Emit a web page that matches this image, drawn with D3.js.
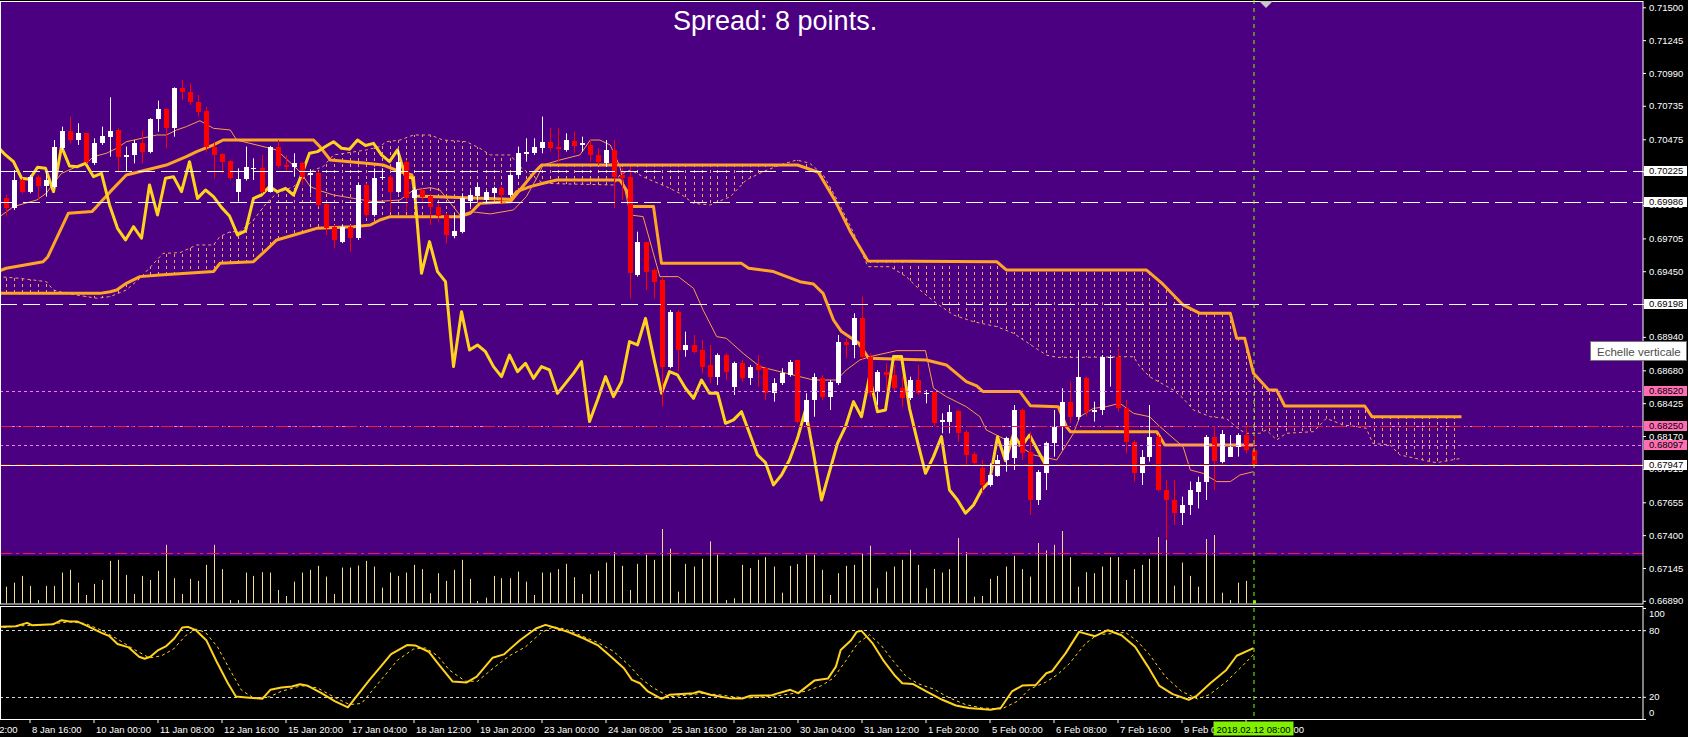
<!DOCTYPE html>
<html>
<head>
<meta charset="utf-8">
<script src="https://cdnjs.cloudflare.com/ajax/libs/d3/7.8.5/d3.min.js"></script>
<style>
  html, body { margin: 0; padding: 0; background: #000; overflow: hidden; }
  svg { display: block; }
  text { font-family: "Liberation Sans", Arial, sans-serif; }
</style>
</head>
<body>
<script>
// H4 candles, bar 0 .. bar 156 (last bar = 2018.02.12 08:00)
var opens = [.70016,.69939,.70159,.70068,.70184,.70112,.70107,.70405,.70539,.70469,
.70521,.70288,.70443,.70495,.70547,.70340,.70353,.70443,.70379,.70630,
.70708,.70560,.70871,.70840,.70767,.70697,.70418,.70358,.70306,.70068,
.70164,.70242,.70249,.70068,.70412,.70275,.70262,.70288,.70197,.70210,
.69972,.69796,.69680,.69796,.69706,.70120,.69887,.70172,.70179,.70068,
.70301,.70016,.70081,.70034,.69952,.69887,.69727,.69757,.69998,.70034,
.70003,.70055,.70094,.70042,.70197,.70359,.70366,.70405,.70456,.70418,
.70392,.70464,.70430,.70430,.70353,.70288,.70392,.70197,.70185,.69421,
.69680,.69460,.69382,.68709,.69136,.68838,.68877,.68838,.68722,.68631,
.68799,.68553,.68735,.68618,.68722,.68696,.68501,.68579,.68644,.68761,
.68282,.68450,.68618,.68476,.68579,.68903,.68877,.69084,.68787,.68515,
.68670,.68644,.68541,.68463,.68605,.68502,.68515,.68282,.68282,.68366,
.68204,.68028,.67919,.67790,.67862,.67984,.67997,.68372,.68049,.67673,
.67880,.68113,.68243,.68437,.68320,.68618,.68359,.68372,.68774,.68787,
.68385,.68126,.67880,.68010,.68165,.67751,.67673,.67570,.67634,.67738,
.67810,.68165,.67971,.68010,.68087,.68178,.68061];

var highs = [.70042,.70236,.70172,.70197,.70197,.70223,.70469,.70573,.70651,.70599,
.70521,.70482,.70573,.70801,.70560,.70418,.70469,.70542,.70638,.70775,
.70715,.70878,.70935,.70910,.70819,.70728,.70456,.70366,.70314,.70249,
.70418,.70327,.70353,.70423,.70469,.70353,.70366,.70301,.70242,.70223,
.69978,.69809,.69809,.69809,.70133,.70133,.70249,.70249,.70197,.70392,
.70314,.70107,.70094,.70055,.69977,.69900,.69900,.70055,.70081,.70133,
.70081,.70107,.70107,.70210,.70418,.70482,.70482,.70651,.70560,.70560,
.70521,.70534,.70495,.70469,.70405,.70469,.70469,.70249,.70262,.69757,
.69680,.69473,.69408,.69149,.69149,.68981,.68955,.68916,.68877,.68812,
.68812,.68748,.68761,.68722,.68799,.68709,.68618,.68696,.68761,.68761,
.68502,.68657,.68644,.68605,.68955,.68929,.69123,.69253,.68812,.68683,
.68735,.68722,.68631,.68631,.68722,.68528,.68515,.68346,.68411,.68372,
.68217,.68049,.67984,.67958,.68023,.68165,.68411,.68385,.68204,.67906,
.68126,.68372,.68541,.68592,.68838,.68631,.68437,.68799,.68799,.68851,
.68450,.68139,.68061,.68411,.68178,.67829,.67829,.67699,.67816,.67854,
.68178,.68243,.68217,.68178,.68191,.68243,.68178];

var lows = [.69874,.69926,.70055,.70055,.70003,.70029,.70094,.70392,.70443,.70431,
.70288,.70275,.70431,.70340,.70223,.70223,.70288,.70288,.70366,.70534,
.70405,.70495,.70780,.70741,.70651,.70379,.70172,.70210,.70159,.69990,
.70154,.70159,.70055,.70061,.70249,.70223,.70184,.70120,.70055,.69952,
.69731,.69628,.69667,.69602,.69693,.69874,.69874,.70159,.69913,.70055,
.69913,.70003,.69977,.69809,.69835,.69667,.69706,.69744,.69952,.70003,
.69977,.70016,.69977,.70029,.70172,.70301,.70353,.70366,.70379,.70301,
.70379,.70366,.70379,.70301,.70275,.70262,.69939,.70003,.69240,.69408,
.69304,.69240,.68400,.68696,.68670,.68786,.68812,.68657,.68579,.68566,
.68605,.68489,.68592,.68566,.68553,.68450,.68437,.68566,.68631,.68269,
.68256,.68320,.68450,.68372,.68566,.68774,.68774,.68761,.68476,.68411,
.68528,.68515,.68398,.68450,.68489,.68424,.68243,.68191,.68191,.68126,
.67932,.67945,.67725,.67777,.67854,.67893,.67906,.67984,.67557,.67634,
.67751,.68010,.68062,.68269,.68295,.68320,.68282,.68333,.68554,.68359,
.68036,.67816,.67790,.67971,.67738,.67362,.67479,.67479,.67557,.67608,
.67673,.67751,.67958,.68010,.68010,.68036,.67932];

var closes = [.69939,.70159,.70068,.70184,.70112,.70159,.70412,.70539,.70469,.70521,
.70301,.70443,.70500,.70539,.70340,.70353,.70443,.70379,.70630,.70708,
.70560,.70871,.70845,.70767,.70689,.70418,.70353,.70301,.70172,.70164,
.70257,.70249,.70068,.70418,.70267,.70262,.70288,.70184,.70210,.69965,
.69783,.69693,.69796,.69706,.70120,.69887,.70172,.70184,.70068,.70301,
.70016,.70081,.70029,.69946,.69879,.69732,.69763,.70016,.70042,.70107,
.70068,.70094,.70042,.70197,.70366,.70379,.70418,.70456,.70405,.70397,
.70469,.70426,.70443,.70353,.70301,.70392,.70185,.70172,.69434,.69680,
.69447,.69369,.68709,.69136,.68838,.68877,.68825,.68709,.68631,.68799,
.68670,.68735,.68618,.68709,.68683,.68501,.68579,.68657,.68748,.68282,
.68450,.68631,.68476,.68592,.68903,.68877,.69084,.68787,.68502,.68670,
.68644,.68541,.68463,.68605,.68502,.68505,.68269,.68295,.68359,.68191,
.68023,.67963,.67790,.67867,.67984,.68152,.68372,.68036,.67673,.67893,
.68113,.68243,.68437,.68320,.68631,.68359,.68372,.68787,.68787,.68385,
.68126,.67880,.68010,.68165,.67751,.67673,.67570,.67634,.67751,.67816,
.68165,.67978,.68185,.68087,.68178,.68061,.67947];

// tick volume per bar
var volumes = [166,206,273,173,33,173,173,306,333,206,
83,193,233,423,433,283,93,273,233,323,
583,250,93,243,223,383,583,340,33,33,
306,273,310,306,133,73,216,306,333,373,
266,93,356,356,376,423,366,156,306,273,
306,383,340,100,300,223,333,433,243,23,
56,273,250,250,316,216,83,306,306,340,
393,260,93,290,323,406,510,373,133,393,
483,433,740,543,116,393,366,443,617,483,
33,50,383,350,433,460,366,106,373,390,
483,483,333,83,300,373,383,500,573,150,
316,366,433,533,383,150,343,306,340,650,
510,66,73,243,273,366,473,340,266,600,
526,583,720,460,166,310,300,366,460,460,
233,340,383,443,660,700,176,406,273,166,
640,680,106,33,206,223,30];

// Ichimoku lines, read as [bar, price] vertices
var tenkan = [[-1,.69861],[1,.69952],[3.9,.70003],[5.1,.70055],[6,.70133],[7,.70210],[8.9,.70262],[10.1,.70288],[11,.70340],[12.6,.70366],[13.9,.70405],[15.1,.70456],[18.9,.70508],[20.1,.70508],[21.4,.70547],[22.6,.70573],[24.3,.70619],[26,.70560],[28.1,.70547],[28.9,.70469],[32.6,.70412],[33.9,.70392],[36.8,.70223],[38.1,.70107],[39.3,.70076],[41,.70042],[43.5,.70016],[46,.69990],[49.3,.70003],[51,.70081],[53.1,.70099],[54.3,.70081],[56.8,.69887],[58.1,.69913],[60.6,.69895],[63.5,.69926],[65.1,.70029],[66.4,.70172],[67.2,.70275],[69.3,.70314],[71.8,.70353],[73.1,.70469],[74.3,.70469],[75.6,.70430],[76.8,.70262],[78.1,.69887],[79.7,.69874],[81.8,.69408],[84.1,.69408],[86,.69317],[87.2,.69149],[88.9,.68942],[90.1,.68929],[92.2,.68812],[94.3,.68709],[99.3,.68631],[101,.68605],[103.9,.68605],[105.1,.68683],[106.8,.68761],[108.1,.68787],[111.4,.68833],[115,.68833],[115.6,.68657],[116,.68541],[117.6,.68476],[120.1,.68398],[121.8,.68320],[122.6,.68217],[125.1,.68139],[126.8,.68088],[128.5,.68023],[131.4,.67984],[132.2,.68062],[133.5,.68191],[134.3,.68320],[136,.68385],[137.6,.68398],[139.3,.68424],[141,.68346],[143,.68320],[144.3,.68243],[147.2,.68087],[148.1,.67906],[149.7,.67880],[151.4,.67816],[153.1,.67816],[154.3,.67867],[156,.67893]];

var kijun = [[-1,.69447],[0.1,.69473],[4.7,.69524],[5.3,.69563],[7.85,.69900],[10.8,.69913],[11.4,.69952],[13.1,.70068],[15.1,.70197],[17.6,.70236],[20.1,.70275],[22.6,.70340],[23.9,.70379],[26,.70431],[27.2,.70469],[38.5,.70469],[39.3,.70418],[40.6,.70314],[45.1,.70288],[47.2,.70275],[49.3,.70223],[50.8,.70198],[51.2,.70034],[63.1,.70008],[63.9,.70068],[65.6,.70107],[67.2,.70133],[68.9,.70159],[76.8,.70159],[77.6,.70081],[78.3,.69952],[81,.69952],[82,.69511],[92,.69511],[92.9,.69473],[96,.69447],[99.3,.69369],[101,.69351],[102.2,.69278],[103.5,.69071],[104.5,.68981],[106.6,.68895],[107.9,.68774],[115.1,.68761],[117.6,.68722],[120.1,.68592],[121.4,.68559],[122.2,.68515],[126.8,.68515],[128.1,.68406],[131.6,.68398],[132.6,.68243],[133.1,.68204],[143.9,.68204],[144.9,.68100],[156,.68100]];

var senkouA = [[-1,.69408],[1.8,.69395],[5.1,.69369],[6,.69304],[7.6,.69278],[11.4,.69240],[13.1,.69253],[15.1,.69304],[16.8,.69395],[19.7,.69589],[21.8,.69594],[23.9,.69654],[26,.69654],[26.8,.69719],[28.1,.69757],[29.3,.69757],[31,.69848],[32.6,.69978],[33.9,.70055],[36,.70107],[38.5,.70236],[39.7,.70262],[41,.70353],[45.1,.70392],[46.8,.70418],[47.6,.70456],[49.3,.70469],[51,.70508],[53.1,.70508],[54.7,.70469],[57.6,.70456],[59.3,.70405],[60.6,.70353],[63.1,.70353],[64.3,.70262],[66,.70185],[67.2,.70133],[70.1,.70128],[76,.70120],[76.8,.70198],[78.1,.70236],[80.1,.70172],[82.6,.70107],[84.3,.70055],[86,.69977],[88.1,.69965],[90.6,.70029],[92.6,.70159],[94.7,.70223],[96.8,.70275],[98.9,.70314],[100.5,.70290],[102.2,.70200],[104,.70000],[106,.69750],[107.8,.69485],[110.6,.69485],[112.6,.69408],[114.3,.69304],[116.4,.69200],[118.5,.69110],[121,.69058],[123.9,.69020],[126,.68968],[128.5,.68864],[130.1,.68799],[131.4,.68781],[134.3,.68781],[141,.68786],[141.8,.68709],[143,.68631],[146,.68527],[147.2,.68463],[148.5,.68372],[150.6,.68320],[152.6,.68307],[154.3,.68217],[155.1,.68191],[156.8,.68191],[157.6,.68217],[158.9,.68139],[160.1,.68191],[163.5,.68204],[165.1,.68307],[167.2,.68256],[168.9,.68243],[170.1,.68230],[170.9,.68113],[173.1,.68100],[174.3,.68023],[178.1,.67971],[178.9,.67963],[182,.67997]];

var senkouB = [[-1,.69278],[11.8,.69278],[13.1,.69291],[13.9,.69304],[15.1,.69356],[16.8,.69408],[19.3,.69421],[26,.69447],[26.8,.69511],[31,.69524],[32.6,.69615],[33.9,.69693],[36.8,.69745],[38.9,.69783],[43.5,.69796],[45.6,.69809],[46.8,.69848],[48.1,.69874],[56.8,.69874],[58.1,.69900],[59.3,.69977],[63.1,.69990],[64.3,.70081],[66,.70210],[67,.70275],[99,.70275],[101.6,.70219],[103.6,.70010],[105.6,.69759],[107.8,.69530],[123.9,.69524],[125.1,.69460],[142.6,.69460],[144.5,.69360],[147.2,.69188],[149.3,.69123],[153.1,.69123],[153.9,.68929],[154.9,.68929],[156,.68657],[157.9,.68527],[158.9,.68527],[159.9,.68403],[169.9,.68403],[170.8,.68320],[182,.68320]];

// lagging span, one value per bar starting at bar -1
var chikouStart = -1;
var chikou = [.70418,.70353,.70301,.70172,.70164,
.70257,.70249,.70068,.70418,.70267,.70262,.70288,.70184,.70210,.69965,
.69783,.69693,.69796,.69706,.70120,.69887,.70172,.70184,.70068,.70301,
.70016,.70081,.70029,.69946,.69879,.69732,.69763,.70016,.70042,.70107,
.70068,.70094,.70042,.70197,.70366,.70379,.70418,.70456,.70405,.70397,
.70469,.70426,.70443,.70353,.70301,.70392,.70185,.70172,.69434,.69680,
.69447,.69369,.68709,.69136,.68838,.68877,.68825,.68709,.68631,.68799,
.68670,.68735,.68618,.68709,.68683,.68501,.68579,.68657,.68748,.68282,
.68450,.68631,.68476,.68592,.68903,.68877,.69084,.68787,.68502,.68670,
.68644,.68541,.68463,.68605,.68502,.68505,.68269,.68295,.68359,.68191,
.68023,.67963,.67790,.67867,.67984,.68152,.68372,.68036,.67673,.67893,
.68113,.68243,.68437,.68320,.68631,.68359,.68372,.68787,.68787,.68385,
.68126,.67880,.68010,.68165,.67751,.67673,.67570,.67634,.67751,.67816,
.68165,.67978,.68185,.68087,.68178,.68061,.67947];

// stochastic %K and %D, [bar, value]
var stochMain = [[-1,83],[1.3,83.6],[2.7,86.6],[3.3,84.5],[5.3,85.1],[6,85.4],[7,89],[8,87.8],[9,87.8],[10,84.5],[12,77.6],[13,74.6],[14,67.5],[15.4,64.5],[16.7,56.1],[17.4,54.3],[18.1,56.1],[19.1,62.1],[20.1,65.7],[21.1,72.5],[22.1,82.4],[22.8,83],[23.8,80],[25.1,71],[26.4,51.6],[27.8,32.2],[28.8,20.3],[30.1,19.4],[32.1,18.2],[33.1,26.3],[34.5,28.4],[35.8,29.3],[36.8,31.3],[37.8,29.9],[39.5,23.3],[41.2,15.8],[42.8,10.4],[44.2,23.3],[45.5,35.2],[46.9,47.2],[48.2,58.5],[50.2,66.6],[51.2,66.3],[52.9,60.6],[54.2,48.7],[55.9,33.7],[57.6,32.8],[58.9,38.2],[60.9,55.2],[62.3,58.2],[64.3,71],[66.3,81.5],[67.5,84.8],[68.6,82.4],[70.3,78.5],[72.3,72.5],[74,66.6],[75.7,56.1],[77.3,45.7],[78.3,35.2],[79.3,32.2],[80.3,24.8],[82,18.2],[83,21.8],[86,23.3],[86.7,24.8],[88.1,21.8],[90.4,18.8],[92.1,18.5],[93.1,20.9],[95.8,21.5],[98.1,26.3],[99.1,23.3],[101.1,34.6],[102.8,36.4],[103.8,47.2],[104.4,62.1],[105.7,71],[106.4,78.5],[107,79.4],[108.4,68.1],[109.7,53.1],[111.1,39.7],[112.1,32.2],[113.4,31.6],[115.1,24.8],[117.1,17.3],[118.8,12.2],[120.4,9.9],[123.1,8.4],[124.4,9.9],[125.8,24.8],[127.1,30.1],[128.8,30.7],[130.1,41.2],[130.8,43],[132.5,59.1],[134.2,78.5],[136.2,74.6],[137.8,80],[139.5,75.5],[141.2,65.1],[142.8,47.2],[144.2,30.1],[145.9,22.4],[147.9,17.3],[148.9,20.9],[150.6,32.2],[152.6,44.2],[153.9,57],[156,63.8]];

var stochSignal = [[-1,82],[2,84],[5,85],[8,87.5],[10,86],[12,80],[14,72],[16,63],[18,55],[19.5,57],[21,63],[22.5,75],[23.8,81],[25,78],[26.5,65],[28,45],[29.5,26],[31,19],[33,20],[34.5,25],[37,30],[39,28],[41,20],[43,13],[44.5,14],[46,27],[47.5,40],[49,53],[51,63],[52.5,64],[54,57],[55.5,44],[57.5,34],[59,34],[61,46],[63,57],[65,65],[67,78],[68.5,83],[70,81],[72,75],[74,69],[76,61],[78,48],[79.5,36],[81,28],[83,20],[84.5,21],[87,23],[89,22],[91,20],[93,19],[96,20.5],[98.5,23],[100,25],[102,30],[103.5,37],[105,52],[106.5,68],[108,76],[109.5,66],[111,52],[112.5,39],[114,32],[116,27],[118,19],[120,13],[122,10],[124.5,9],[126.5,16],[128,27],[130,33],[131.5,40],[133,50],[135,68],[136.5,76],[138.5,77],[140,78],[141.5,70],[143,58],[145,38],[147,25],[149,18],[150.5,22],[152.5,33],[154.5,47],[156,58]];

// horizontal levels
var whiteLevels = [0.70225, 0.69986, 0.69198];
var pinkLevels = [0.68520, 0.68250, 0.68097];
var redLevels = [0.68250, 0.67259];
var bidPrice = 0.67947;
var bandTopPrice = 0.67240;

// axes
var priceTicks = [0.71500,0.71245,0.70990,0.70735,0.70475,0.70225,0.69965,0.69705,0.69450,0.69195,0.68940,0.68680,0.68425,0.68170,0.67915,0.67655,0.67400,0.67145,0.66890];
var stochTicks = [100, 80, 20, 0];
var stochLevels = [80, 20];
var timeBars = [-5,3,11,19,27,35,43,51,59,67,75,83,91,99,107,115,123,131,139,147,155];
var timeLabels = ["5 Jan 12:00","8 Jan 16:00","10 Jan 00:00","11 Jan 08:00","12 Jan 16:00","15 Jan 20:00","17 Jan 04:00","18 Jan 12:00","19 Jan 20:00","23 Jan 00:00","24 Jan 08:00","25 Jan 16:00","28 Jan 21:00","30 Jan 04:00","31 Jan 12:00","1 Feb 20:00","5 Feb 00:00","6 Feb 08:00","7 Feb 16:00","9 Feb 00:00","12 Feb 04:00"];
var currentBar = 156;
var currentLabel = "2018.02.12 08:00";
var cloudEnd = 182;

var width = 1688, height = 737;
var plotRight = 1643;
var mainTop = 2, mainBottom = 604;
var stochTop = 606, stochBottom = 719;

var x = d3.scaleLinear().domain([0, 156]).range([5.5, 1253.5]);
var y = d3.scaleLinear().domain([0.6689, 0.715]).range([600.8, 7.3]);
var ys = d3.scaleLinear().domain([0, 100]).range([719, 608]);
var yv = d3.scaleLinear().domain([0, d3.max(volumes)]).range([603.3, 529]);

var svg = d3.select("body").append("svg")
  .attr("width", width).attr("height", height)
  .style("background", "#000");

var defs = svg.append("defs");
defs.append("clipPath").attr("id", "clipMain")
  .append("rect").attr("x", 0).attr("y", mainTop).attr("width", plotRight).attr("height", mainBottom - mainTop);
defs.append("clipPath").attr("id", "clipStoch")
  .append("rect").attr("x", 0).attr("y", stochTop).attr("width", plotRight).attr("height", stochBottom - stochTop);

// cloud region = senkou A forward, senkou B backward
var cloudPts = senkouA.map(function(d) { return [x(d[0]), y(d[1])]; })
  .concat(senkouB.slice().reverse().map(function(d) { return [x(d[0]), y(d[1])]; }));
defs.append("clipPath").attr("id", "clipCloud")
  .append("path").attr("d", "M" + cloudPts.join("L") + "Z");

// backgrounds
svg.append("rect").attr("x", 0).attr("y", mainTop).attr("width", plotRight).attr("height", y(bandTopPrice) - mainTop)
  .attr("fill", "#4b0082");

var main = svg.append("g").attr("clip-path", "url(#clipMain)");

// cloud hatch
main.append("g").attr("clip-path", "url(#clipCloud)")
  .selectAll("line").data(d3.range(-1, cloudEnd + 1)).enter().append("line")
  .attr("x1", function(d) { return Math.round(x(d)) + 0.5; })
  .attr("x2", function(d) { return Math.round(x(d)) + 0.5; })
  .attr("y1", mainTop).attr("y2", mainBottom)
  .attr("stroke", "#f4a460").attr("stroke-width", 1).attr("stroke-dasharray", "3,3");

// volumes
main.append("g").selectAll("line").data(volumes).enter().append("line")
  .attr("x1", function(d, i) { return Math.round(x(i)) + 0.5; })
  .attr("x2", function(d, i) { return Math.round(x(i)) + 0.5; })
  .attr("y1", yv(0)).attr("y2", function(d) { return yv(d); })
  .attr("stroke", function(d, i) { return i == currentBar ? "#7cfc00" : "#f0dc8c"; })
  .attr("stroke-width", function(d, i) { return i == currentBar ? 3 : 1; });

var line = d3.line().x(function(d) { return x(d[0]); }).y(function(d) { return y(d[1]); });

main.append("path").attr("d", line(senkouA)).attr("fill", "none")
  .attr("stroke", "#f4a460").attr("stroke-width", 1).attr("stroke-dasharray", "3,3");
main.append("path").attr("d", line(senkouB)).attr("fill", "none")
  .attr("stroke", "#ffa526").attr("stroke-width", 3).attr("stroke-linejoin", "round");
main.append("path").attr("d", line(kijun)).attr("fill", "none")
  .attr("stroke", "#ffa526").attr("stroke-width", 3).attr("stroke-linejoin", "round");
main.append("path").attr("d", line(tenkan)).attr("fill", "none")
  .attr("stroke", "#ff9d45").attr("stroke-width", 1);

var chikouLine = d3.line()
  .x(function(d, i) { return x(chikouStart + i); })
  .y(function(d) { return y(d); });
main.append("path").attr("d", chikouLine(chikou)).attr("fill", "none")
  .attr("stroke", "#ffd21e").attr("stroke-width", 3).attr("stroke-linejoin", "round");

// candles
var candles = main.append("g").selectAll("g").data(closes).enter().append("g");
candles.append("line")
  .attr("x1", function(d, i) { return Math.round(x(i)) + 0.5; })
  .attr("x2", function(d, i) { return Math.round(x(i)) + 0.5; })
  .attr("y1", function(d, i) { return y(highs[i]); })
  .attr("y2", function(d, i) { return y(lows[i]); })
  .attr("stroke", function(d, i) { return d >= opens[i] ? "#ffffff" : "#ff0000"; });
candles.append("rect")
  .attr("x", function(d, i) { return Math.round(x(i)) - 2; })
  .attr("width", 5)
  .attr("y", function(d, i) { return y(Math.max(d, opens[i])); })
  .attr("height", function(d, i) { return Math.max(1, Math.abs(y(d) - y(opens[i]))); })
  .attr("fill", function(d, i) { return d >= opens[i] ? "#ffffff" : "#ff0000"; })
  .attr("shape-rendering", "crispEdges");

// horizontal objects
main.selectAll(".wl").data(whiteLevels).enter().append("line")
  .attr("x1", 0).attr("x2", plotRight)
  .attr("y1", function(d) { return Math.round(y(d)) + 0.5; })
  .attr("y2", function(d) { return Math.round(y(d)) + 0.5; })
  .attr("stroke", "#ffffff").attr("stroke-dasharray", "17,6");
main.selectAll(".pl").data(pinkLevels).enter().append("line")
  .attr("x1", 0).attr("x2", plotRight)
  .attr("y1", function(d) { return Math.round(y(d)) + 0.5; })
  .attr("y2", function(d) { return Math.round(y(d)) + 0.5; })
  .attr("stroke", "#f080f0").attr("stroke-dasharray", "3,3");
main.selectAll(".rl").data(redLevels).enter().append("line")
  .attr("x1", 0).attr("x2", plotRight)
  .attr("y1", function(d) { return Math.round(y(d)) + 0.5; })
  .attr("y2", function(d) { return Math.round(y(d)) + 0.5; })
  .attr("stroke", "#e8203c").attr("stroke-dasharray", "12,4,3,4");
main.append("line").attr("x1", 0).attr("x2", plotRight)
  .attr("y1", Math.round(y(bidPrice)) - 0.5).attr("y2", Math.round(y(bidPrice)) - 0.5)
  .attr("stroke", "#b00010").attr("stroke-dasharray", "10,6");
main.append("line").attr("x1", 0).attr("x2", plotRight)
  .attr("y1", Math.round(y(bidPrice)) + 0.5).attr("y2", Math.round(y(bidPrice)) + 0.5)
  .attr("stroke", "#ffffff");

// stochastic panel
var stoch = svg.append("g").attr("clip-path", "url(#clipStoch)");
stoch.selectAll("line").data(stochLevels).enter().append("line")
  .attr("x1", 0).attr("x2", plotRight)
  .attr("y1", function(d) { return Math.round(ys(d)) + 0.5; })
  .attr("y2", function(d) { return Math.round(ys(d)) + 0.5; })
  .attr("stroke", "#d8d8d8").attr("stroke-dasharray", "3,3");
var sline = d3.line().x(function(d) { return x(d[0]); }).y(function(d) { return ys(d[1]); });
stoch.append("path").attr("d", sline(stochSignal)).attr("fill", "none")
  .attr("stroke", "#ffd21e").attr("stroke-width", 1).attr("stroke-dasharray", "3,3");
stoch.append("path").attr("d", sline(stochMain)).attr("fill", "none")
  .attr("stroke", "#ffd21e").attr("stroke-width", 2).attr("stroke-linejoin", "round");

// frames
svg.append("rect").attr("x", 0.5).attr("y", 1.5).attr("width", plotRight - 0.5).attr("height", mainBottom - 1.5)
  .attr("fill", "none").attr("stroke", "#ffffff");
svg.append("rect").attr("x", 0.5).attr("y", stochTop + 0.5).attr("width", plotRight - 0.5).attr("height", stochBottom - stochTop)
  .attr("fill", "none").attr("stroke", "#ffffff");

// current bar marker
svg.append("line").attr("x1", x(currentBar) + 0.5).attr("x2", x(currentBar) + 0.5)
  .attr("y1", 0).attr("y2", stochBottom)
  .attr("stroke", "#7cfc00").attr("stroke-dasharray", "4,4");
svg.append("path").attr("d", "M1259,1L1273,1L1266,8Z").attr("fill", "#c8c8c8");

// price axis
var priceAxis = d3.axisRight(y).tickValues(priceTicks).tickFormat(d3.format(".5f")).tickSize(3).tickPadding(3);
var pa = svg.append("g").attr("transform", "translate(" + plotRight + ",0)").call(priceAxis);
pa.select(".domain").remove();
pa.selectAll("line").attr("stroke", "#ffffff");
pa.selectAll("text").attr("fill", "#ffffff").style("font-size", "9.5px").style("font-family", "'Liberation Sans', Arial, sans-serif");

function priceBox(v, fill) {
  var cy = Math.round(y(v));
  svg.append("rect").attr("x", plotRight + 1).attr("y", cy - 5).attr("width", width - plotRight - 2).attr("height", 10)
    .attr("fill", fill);
  svg.append("text").attr("x", plotRight + 6).attr("y", cy).attr("dy", "0.34em")
    .attr("fill", "#000").style("font-size", "9.5px").text(d3.format(".5f")(v));
}
whiteLevels.forEach(function(v) { priceBox(v, "#ffffff"); });
pinkLevels.forEach(function(v) { priceBox(v, "#ff6eb4"); });
priceBox(bidPrice, "#ffffff");

// stochastic axis
var stochAxis = d3.axisRight(ys).tickValues(stochTicks).tickFormat(d3.format("d")).tickSize(3).tickPadding(3);
var sa = svg.append("g").attr("transform", "translate(" + plotRight + ",0)").call(stochAxis);
sa.select(".domain").remove();
sa.selectAll("line").attr("stroke", "#ffffff");
sa.selectAll("text").attr("fill", "#ffffff").style("font-size", "9.5px")
  .attr("y", function(d) { return d == 100 ? 5.5 : (d == 0 ? -7 : 0); });

// time axis
var timeAxis = d3.axisBottom(x).tickValues(timeBars)
  .tickFormat(function(d, i) { return timeLabels[i]; }).tickSize(4).tickPadding(3);
var ta = svg.append("g").attr("transform", "translate(0," + stochBottom + ")").call(timeAxis);
ta.select(".domain").remove();
ta.selectAll("line").attr("stroke", "#ffffff");
ta.selectAll("text").attr("fill", "#ffffff").style("font-size", "9.5px")
  .attr("text-anchor", "start").attr("x", 2);

svg.append("rect").attr("x", x(currentBar) - 40).attr("y", 721.5).attr("width", 80).attr("height", 14)
  .attr("fill", "#80f000");
svg.append("text").attr("x", x(currentBar)).attr("y", 732.5).attr("text-anchor", "middle")
  .attr("fill", "#000").style("font-size", "9.5px").text(currentLabel);

// spread label
svg.append("text").attr("x", 673).attr("y", 30)
  .attr("fill", "#ffffff").style("font-size", "27px").text("Spread: 8 points.");

// tooltip over the price scale
svg.append("rect").attr("x", 1590.5).attr("y", 341.5).attr("width", 96).attr("height", 19)
  .attr("fill", "#ffffff").attr("stroke", "#767676");
svg.append("text").attr("x", 1597).attr("y", 355.5)
  .attr("fill", "#4d4d4d").style("font-size", "11.5px").text("Echelle verticale");
</script>
</body>
</html>
